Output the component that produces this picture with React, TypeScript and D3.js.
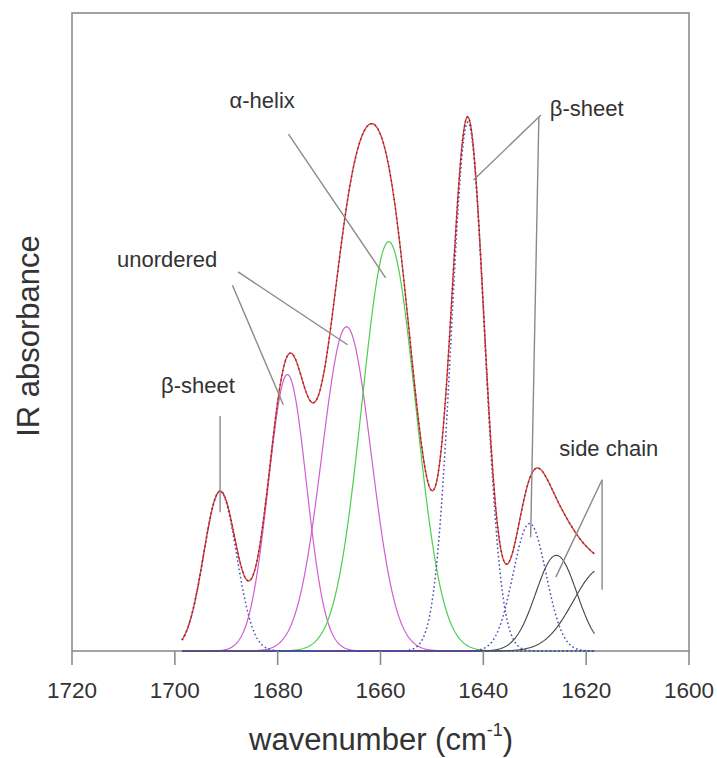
import React from 'react';
import * as d3 from 'd3';

// ---- data ----
const xTicks = [1720, 1700, 1680, 1660, 1640, 1620, 1600];
// fitted component bands (Gaussian): centre (cm-1), height (rel. absorbance), sigma (cm-1)
const bandCenters = [1691.2, 1678.1, 1666.6, 1658.4, 1643.0, 1631.0, 1625.8, 1617.0];
const bandHeights = [0.30, 0.52, 0.61, 0.77, 0.995, 0.24, 0.18, 0.155];
const bandWidths = [3.2, 3.7, 4.8, 5.2, 3.2, 3.2, 4.0, 5.5];
const bandKinds = ['dotted', 'magenta', 'magenta', 'green', 'dotted', 'dotted', 'black', 'black'];
const specRange = [1698.6, 1618.4];

// annotations in data coordinates [wavenumber, absorbance]
const labelTexts = ['β-sheet', 'unordered', 'α-helix', 'β-sheet', 'side chain'];
const labelAnchors: [number, number][] = [
  [1695.5, 0.485],
  [1701.5, 0.722],
  [1683.0, 1.021],
  [1619.9, 1.006],
  [1615.6, 0.367],
];
const leaderLines: [number, number, number, number][] = [
  [1691.2, 0.442, 1691.2, 0.261],
  [1688.8, 0.688, 1678.9, 0.463],
  [1687.7, 0.713, 1666.4, 0.576],
  [1677.9, 0.972, 1659.0, 0.702],
  [1628.8, 1.008, 1641.9, 0.886],
  [1629.2, 1.004, 1630.8, 0.214],
  [1616.9, 0.322, 1625.9, 0.139],
  [1616.9, 0.322, 1616.9, 0.115],
];

const W = 717;
const H = 758;
const M = { left: 72, right: 689, top: 13, bottom: 651 };

const kindStyle: Record<string, { stroke: string; dash?: string; width: number }> = {
  dotted: { stroke: '#4a4ab8', dash: '1.6 2.6', width: 1.5 },
  magenta: { stroke: '#cf5fd0', width: 1.2 },
  green: { stroke: '#4ccf4c', width: 1.2 },
  black: { stroke: '#444', width: 1.1 },
};

const font = '"Liberation Sans", Arial, Helvetica, sans-serif';

export default function App() {
  const x = d3.scaleLinear().domain([1720, 1600]).range([M.left, M.right]);
  const y = d3.scaleLinear().domain([0, 1.2]).range([M.bottom, M.top]);

  const grid = d3.range(specRange[0], specRange[1] - 0.001, -0.2);
  const band = (i: number, v: number) =>
    bandHeights[i] * Math.exp(-((v - bandCenters[i]) ** 2) / (2 * bandWidths[i] ** 2));
  const total = (v: number) => bandCenters.reduce((s, _c, i) => s + band(i, v), 0);

  const line = d3
    .line<[number, number]>()
    .x((d) => x(d[0]))
    .y((d) => y(d[1]))
    .curve(d3.curveLinear);

  const bandPaths = bandCenters.map((_c, i) => line(grid.map((v) => [v, band(i, v)] as [number, number])) || '');
  const totalPath = line(grid.map((v) => [v, total(v)] as [number, number])) || '';

  const order = [1, 2, 3, 6, 7, 0, 4, 5];

  return (
    <svg
      width={W}
      height={H}
      style={{ position: 'absolute', left: 0, top: 0, background: '#fff' }}
      xmlns="http://www.w3.org/2000/svg"
    >
      <rect x={0} y={0} width={W} height={H} fill="#fff" />
      {/* frame */}
      <rect
        x={M.left}
        y={M.top}
        width={M.right - M.left}
        height={M.bottom - M.top}
        fill="none"
        stroke="#8c8c8c"
        strokeWidth={1.6}
      />
      {/* components */}
      {order.map((i) => {
        const st = kindStyle[bandKinds[i]];
        return (
          <path
            key={'b' + i}
            d={bandPaths[i]}
            fill="none"
            stroke={st.stroke}
            strokeWidth={st.width}
            strokeDasharray={st.dash}
          />
        );
      })}
      {/* fitted sum */}
      <path d={totalPath} fill="none" stroke="#e43c3c" strokeWidth={1.4} />
      {/* measured data */}
      <path d={totalPath} fill="none" stroke="#222230" strokeWidth={1.6} strokeDasharray="1.2 3.6" opacity={0.7} />

      {/* ticks */}
      {xTicks.map((t) => (
        <g key={t}>
          <line x1={x(t)} x2={x(t)} y1={M.bottom} y2={M.bottom + 14} stroke="#8c8c8c" strokeWidth={1.6} />
          <text
            x={x(t)}
            y={698}
            textAnchor="middle"
            fontFamily={font}
            fontSize={22.5}
            fill="#333"
          >
            {t}
          </text>
        </g>
      ))}

      {/* leader lines */}
      {leaderLines.map((l, i) => (
        <line
          key={'l' + i}
          x1={x(l[0])}
          y1={y(l[1])}
          x2={x(l[2])}
          y2={y(l[3])}
          stroke="#8a8a8a"
          strokeWidth={1.4}
        />
      ))}
      {labelTexts.map((t, i) => (
        <text
          key={'t' + i}
          x={x(labelAnchors[i][0])}
          y={y(labelAnchors[i][1])}
          textAnchor="middle"
          fontFamily={font}
          fontSize={22}
          fill="#333"
        >
          {t}
        </text>
      ))}

      {/* axis titles */}
      <text x={249} y={750} fontFamily={font} fontSize={31} fill="#333">
        wavenumber (cm
        <tspan fontSize={18} dy={-14}>-1</tspan>
        <tspan dy={14}>)</tspan>
      </text>
      <text
        transform="translate(39,336) rotate(-90)"
        textAnchor="middle"
        fontFamily={font}
        fontSize={31}
        fill="#333"
      >
        IR absorbance
      </text>
    </svg>
  );
}
